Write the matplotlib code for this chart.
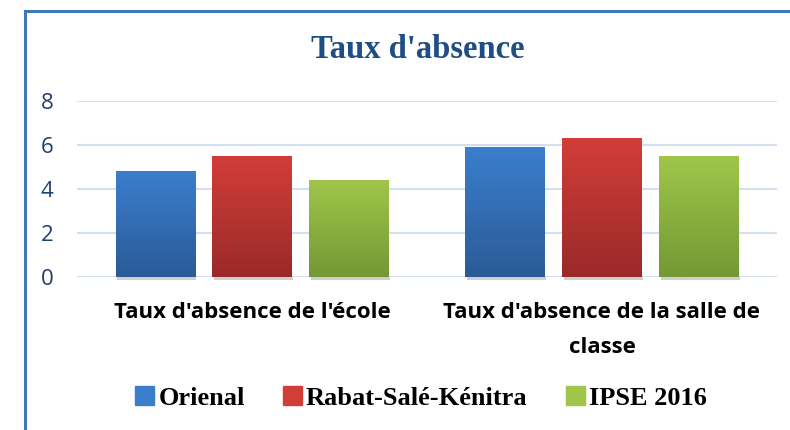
import matplotlib.pyplot as plt
import matplotlib.patches as mpatches
from matplotlib.colors import LinearSegmentedColormap
import numpy as np

categories = ["Taux d'absence de l'école", "Taux d'absence de la salle de\nclasse"]
series = ["Orienal", "Rabat-Salé-Kénitra", "IPSE 2016"]
oriental = [4.8, 5.9]
rabat = [5.5, 6.3]
ipse = [4.4, 5.5]
yticks = [0, 2, 4, 6, 8]

# top / bottom colours of each gradient
grads = [("#3b7ecc", "#2b5b98"), ("#d23d38", "#9a2a29"), ("#9fc64a", "#749834")]

fig = plt.figure(figsize=(7.9, 4.3), dpi=100)
fig.patch.set_facecolor("white")

# chart frame (only left and top edges visible in the picture)
fig.add_artist(plt.Line2D([25 / 790, 25 / 790], [0, 1 - 11 / 430], color="#3e79b8", lw=2.2))
fig.add_artist(plt.Line2D([25 / 790, 1], [1 - 11 / 430, 1 - 11 / 430], color="#3e79b8", lw=2.2))

ax = fig.add_axes([77 / 790, 1 - 277 / 430, 700 / 790, 176 / 430])

x = np.arange(len(categories))
w = 0.226
step = 0.277
for i, vals in enumerate([oriental, rabat, ipse]):
    bars = ax.bar(x + (i - 1) * step, vals, w, color=grads[i][1], zorder=3)
    cmap = LinearSegmentedColormap.from_list("g%d" % i, [grads[i][1], grads[i][0]])
    for b in bars:
        bx, bw, bh = b.get_x(), b.get_width(), b.get_height()
        # soft shadow under the bar
        ax.add_patch(mpatches.Rectangle((bx + 0.005, -0.12), bw, 0.12, color="#b0b0b0",
                                        alpha=0.6, zorder=2, clip_on=False, lw=0))
        grad = np.linspace(0, 1, 100).reshape(-1, 1)
        ax.imshow(grad, extent=(bx, bx + bw, 0, bh), origin="lower", cmap=cmap,
                  aspect="auto", zorder=4)
ax.set_xlim(-0.5, 1.5)
ax.set_ylim(0, 8)

ax.set_yticks(yticks)
ax.set_yticklabels([str(t) for t in yticks], fontsize=16, color="#1f3f6e",
                   family="Open Sans")
ax.tick_params(axis="y", length=0, pad=17)
ax.tick_params(axis="x", length=0, pad=18)
ax.set_xticks(x)
ax.set_xticklabels(categories, fontsize=16, fontweight="bold", family="Open Sans",
                   linespacing=1.85)
ax.grid(axis="y", color="#d3e0f0", lw=1.5, zorder=0)
for s in ax.spines.values():
    s.set_visible(False)
ax.set_facecolor("none")

fig.text(418 / 790, 1 - 50 / 430, "Taux d'absence", ha="center", va="center",
         fontsize=23.5, fontweight="bold", family="Liberation Serif", color="#1f4e84")

handles = [mpatches.Patch(color=grads[i][0]) for i in range(3)]
fig.legend(handles, series, loc="center", bbox_to_anchor=(421 / 790, 1 - 398 / 430),
           ncol=3, frameon=False, handlelength=0.72, handleheight=0.72, handletextpad=0.15,
           columnspacing=1.45, prop={"family": "Liberation Serif", "weight": "bold", "size": 19})

fig.savefig("out.png", dpi=100)
